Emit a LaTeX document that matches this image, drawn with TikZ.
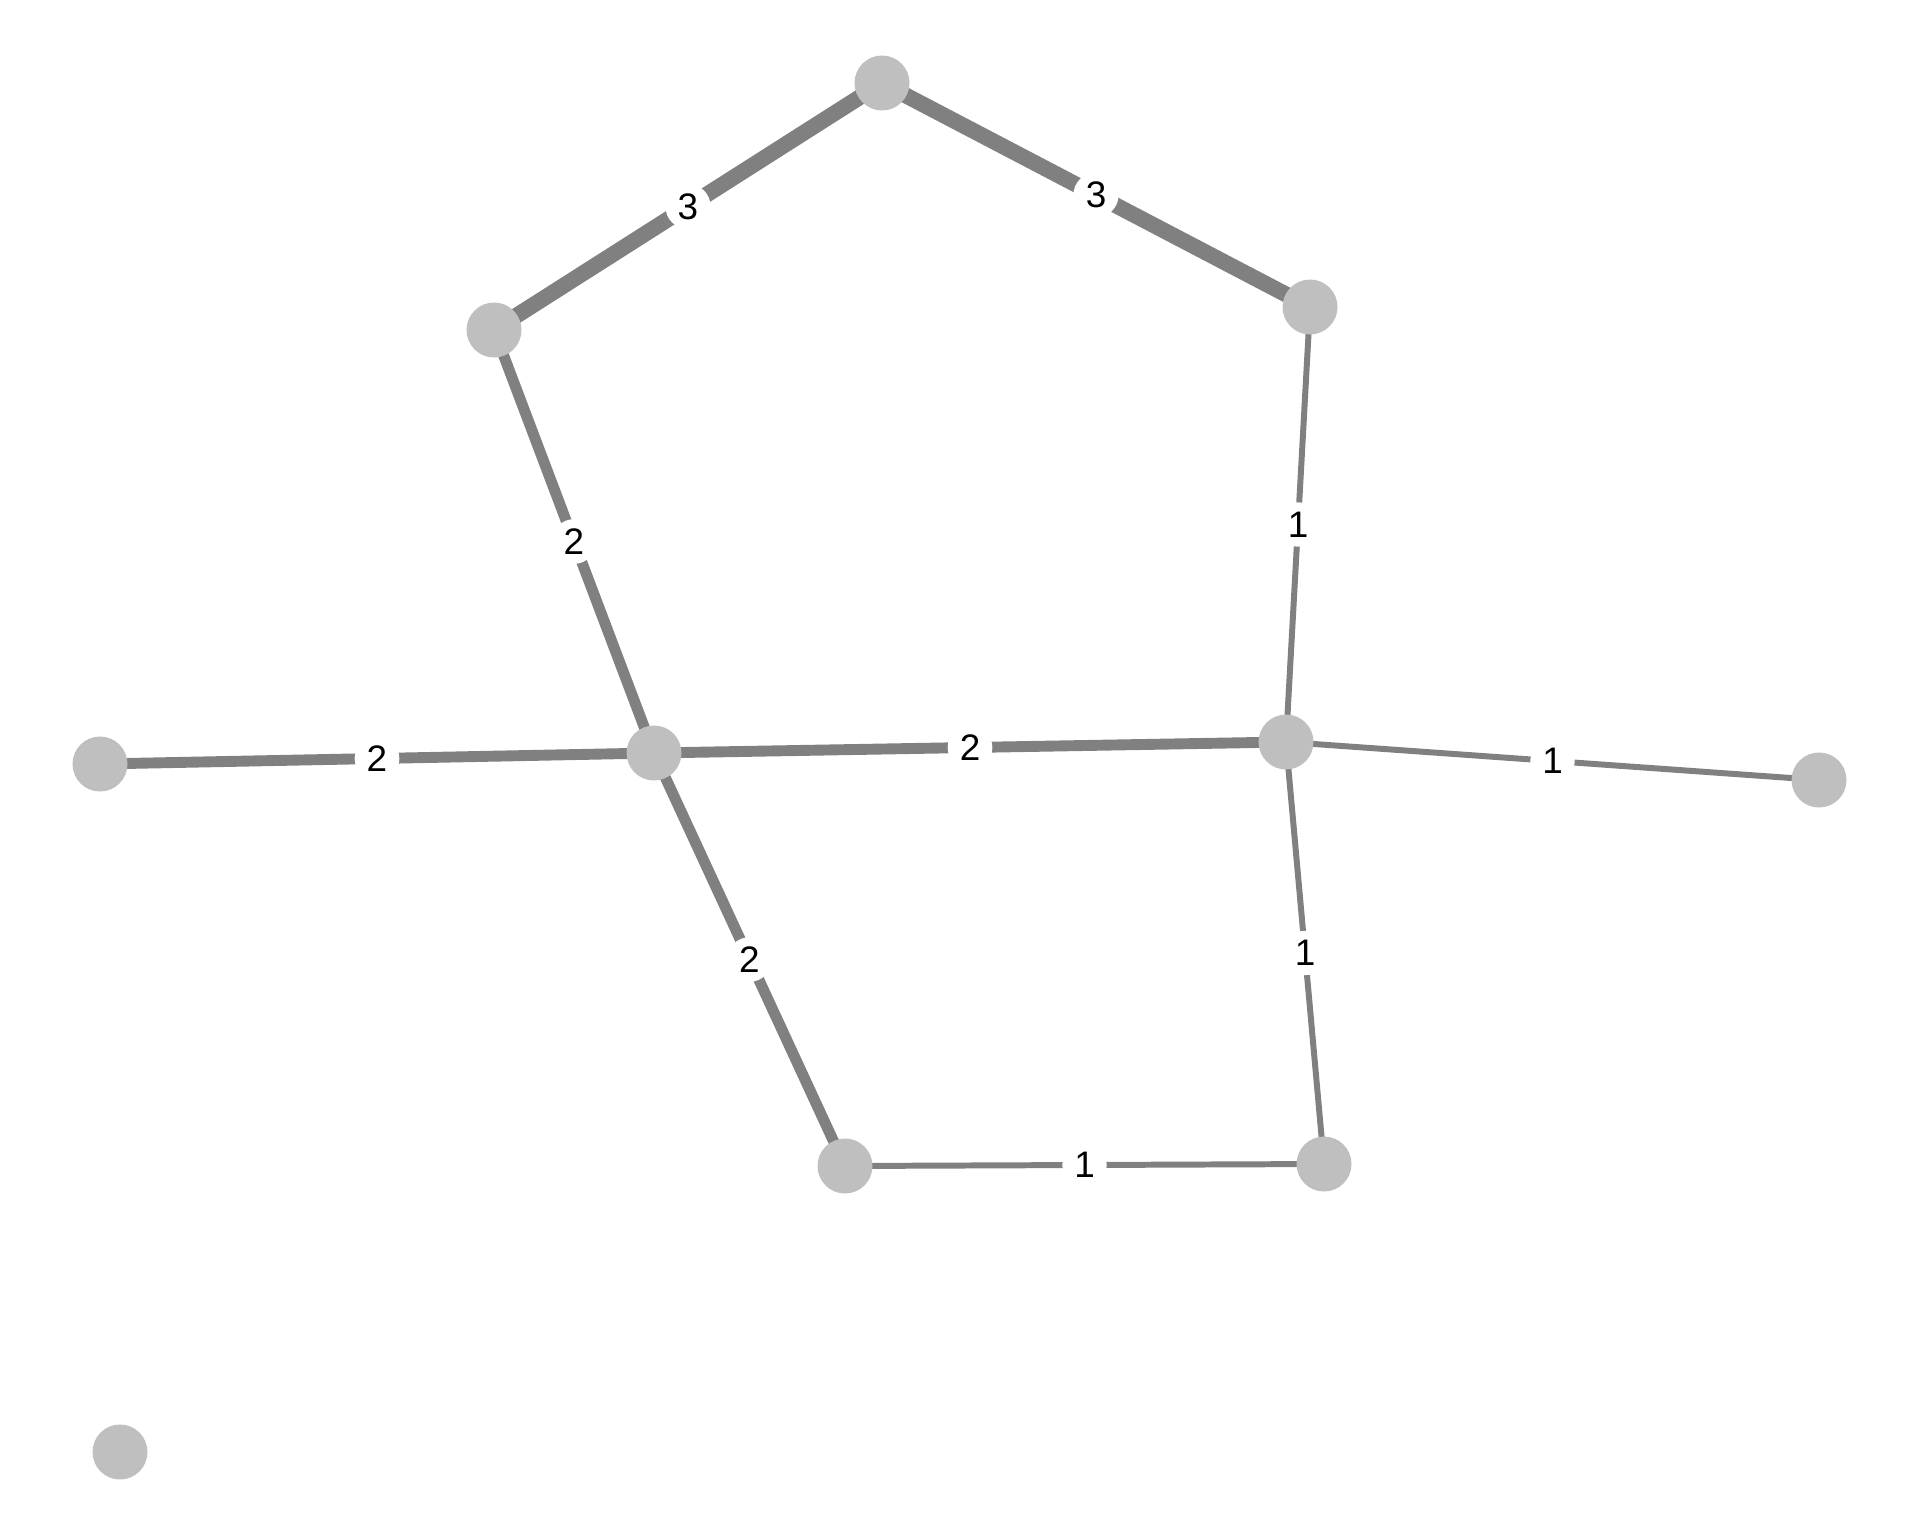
\documentclass[tikz,border=0pt]{standalone}
\usepackage{fontspec}
\setmainfont{Liberation Sans}
\usetikzlibrary{backgrounds}
\definecolor{xamcanh}{HTML}{808080}
\definecolor{xamdinh}{HTML}{BFBFBF}
\begin{document}
\begin{tikzpicture}
		\tikzset{
			every node/.style={font=\fontsize{10.5}{12}\selectfont},
			% dinh
			dinh/.style={circle,fill=xamdinh,minimum size=0.55cm,inner sep=0pt},
			% canh
			canh1/.style={draw=xamcanh,line width=1.7pt},
			canh2/.style={draw=xamcanh,line width=3.1pt},
			canh3/.style={draw=xamcanh,line width=4.5pt},
			% nhan
			nhan/.style={circle,fill=white,inner sep=1.2pt,text=black},
		}
		\useasboundingbox (0,0) rectangle (19.2,-15.36);
		%
		\node[dinh](d1) at (8.82,-0.83){};
		\node[dinh](d2) at (4.94,-3.30){};
		\node[dinh](d3) at (13.10,-3.07){};
		\node[dinh](d4) at (6.54,-7.53){};
		\node[dinh](d5) at (12.86,-7.42){};
		\node[dinh](d6) at (1.00,-7.64){};
		\node[dinh](d7) at (18.19,-7.80){};
		\node[dinh](d8) at (8.45,-11.66){};
		\node[dinh](d9) at (13.24,-11.64){};
		\node[dinh](d10) at (1.20,-14.52){};
		%
		\begin{scope}[on background layer]
		\draw[canh3](d1.center)--(d2.center)node[nhan,midway](n12){3};
		\draw[canh3](d1.center)--(d3.center)node[nhan,midway](n13){3};
		\draw[canh2](d2.center)--(d4.center)node[nhan,midway](n24){2};
		\draw[canh1](d3.center)--(d5.center)node[nhan,midway](n35){1};
		\draw[canh2](d6.center)--(d4.center)node[nhan,midway](n64){2};
		\draw[canh2](d4.center)--(d5.center)node[nhan,midway](n45){2};
		\draw[canh1](d5.center)--(d7.center)node[nhan,midway](n57){1};
		\draw[canh2](d4.center)--(d8.center)node[nhan,midway](n48){2};
		\draw[canh1](d5.center)--(d9.center)node[nhan,midway](n59){1};
		\draw[canh1](d8.center)--(d9.center)node[nhan,midway](n89){1};
		\end{scope}
\end{tikzpicture}
\end{document}
